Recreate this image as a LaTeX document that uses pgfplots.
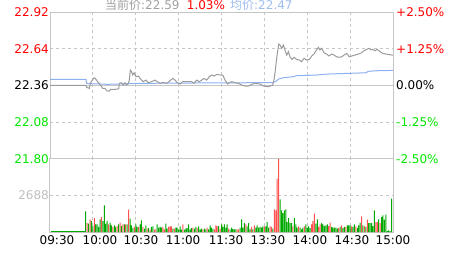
\documentclass[border=0pt]{standalone}
\usepackage{fontspec}
\setmainfont{DejaVu Sans}
\newfontfamily\cjk{Noto Sans CJK SC}
\usepackage{pgfplots}
\pgfplotsset{compat=1.18}
\definecolor{bgray}{RGB}{198,198,198}
\definecolor{lred}{RGB}{255,0,0}
\definecolor{lgreen}{RGB}{0,230,0}
\definecolor{vred}{RGB}{255,80,80}
\definecolor{vgreen}{RGB}{0,168,0}
\definecolor{pgray}{RGB}{155,155,155}
\definecolor{pblue}{RGB}{140,176,240}
\definecolor{tgray}{RGB}{160,160,160}
\definecolor{tblue}{RGB}{160,188,240}
\definecolor{vlbl}{RGB}{192,192,192}
\pgfplotsset{
  common/.style={scale only axis, width=343pt, xmin=0, xmax=240, anchor=south west,
    axis line style={draw=bgray, line width=1pt},
    major tick length=0pt, tick style={draw=none},
    grid style={draw=bgray, line width=1pt, dash pattern=on 3pt off 3pt},
    ticklabel style={font=\fontsize{12}{14}\selectfont, inner sep=0pt},
  }
}
\begin{document}
\begin{tikzpicture}
\useasboundingbox (0,0) rectangle (463pt,255pt);
% price axis
\begin{axis}[common, at={(50pt,96.3pt)}, height=146.7pt, ymin=21.80, ymax=22.92,
  xtick={30,60,90,120,150,180,210}, xticklabels={}, xmajorgrids,
  ytick={21.80,22.08,22.64,22.92},
  yticklabels={\textcolor{lgreen}{21.80},\textcolor{lgreen}{22.08},\textcolor{lred}{22.64},\textcolor{lred}{22.92}},
  ymajorgrids,
  extra y ticks={22.36}, extra y tick labels={\textcolor{black}{22.36}},
  extra y tick style={grid style={solid}},
  yticklabel style={anchor=east, xshift=-1pt}]
\addplot[pblue, line width=1pt] coordinates {
(0,22.406) (25.2,22.406) (25.6,22.375) (30,22.372) (35,22.37) (40,22.368) (48,22.37) (55,22.372) (60,22.375) (100,22.378) (140,22.38) (156,22.381) (157.7,22.388) (159.1,22.40) (160,22.408) (161.4,22.413) (163.3,22.418) (170.3,22.426) (171.9,22.433) (186.6,22.439) (193.6,22.446) (209.9,22.452) (221.1,22.456) (222.7,22.467) (227.4,22.471) (240,22.474)
};
\addplot[pgray, line width=1pt] coordinates {
(0,22.36) (25.2,22.36) (25.7,22.345) (27.5,22.337) (28.4,22.38) (29.6,22.40) (31,22.418) (32.2,22.406) (33.3,22.388) (34.5,22.375) (35.7,22.355) (36.8,22.337) (38.5,22.337) (39.6,22.319) (41.5,22.316) (42.4,22.329) (45.5,22.329) (48.1,22.334) (48.5,22.375) (50.1,22.38) (51.3,22.362) (52.5,22.38) (53.6,22.362) (54.8,22.375) (55.5,22.40) (56.2,22.477) (57.1,22.464) (57.8,22.439) (58.8,22.456) (60.2,22.426) (61.8,22.431) (63.5,22.406) (65.3,22.388) (67.2,22.40) (68.8,22.38) (71.1,22.388) (73.5,22.40) (75.1,22.388) (77,22.375) (79.3,22.383) (81.6,22.375) (84,22.395) (85.9,22.413) (87.5,22.40) (89.1,22.38) (91,22.37) (92.8,22.388) (95.6,22.388) (99.1,22.388) (100.7,22.375) (102.6,22.40) (104.5,22.388) (106.1,22.40) (107.8,22.413) (109.6,22.40) (111.5,22.426) (113.2,22.439) (114.8,22.431) (116.7,22.444) (119,22.439) (120.9,22.439) (122.5,22.40) (124.2,22.37) (125.6,22.38) (127.2,22.388) (129.6,22.38) (131.9,22.375) (134.2,22.362) (136.6,22.355) (138.9,22.355) (141.2,22.368) (143.6,22.375) (147.1,22.37) (149.3,22.355) (152.8,22.35) (155.8,22.362) (156.7,22.40) (157.7,22.477) (158.6,22.566) (160,22.675) (160.9,22.668) (162.1,22.643) (163.3,22.668) (164.4,22.63) (165.6,22.591) (166.8,22.617) (167.9,22.578) (169.3,22.558) (170.7,22.574) (172.6,22.558) (174.5,22.553) (176.1,22.54) (177.7,22.566) (179.6,22.553) (181.5,22.558) (183.1,22.584) (184.7,22.599) (186.1,22.624) (187.8,22.65) (188.9,22.63) (190.1,22.643) (191.7,22.609) (193.6,22.599) (195.2,22.584) (197.1,22.599) (198.7,22.591) (200.6,22.578) (202.4,22.574) (204.1,22.578) (205.7,22.591) (207.6,22.604) (209.4,22.578) (211.1,22.584) (213.4,22.591) (215.7,22.599) (218.1,22.609) (219.7,22.624) (221.6,22.635) (223.4,22.643) (224.6,22.63) (225.8,22.635) (227.4,22.624) (229,22.635) (230.9,22.617) (232.8,22.604) (235.1,22.599) (240,22.59)
};
\end{axis}
% percent axis (right)
\begin{axis}[common, at={(50pt,96.3pt)}, height=146.7pt, ymin=-2.5, ymax=2.5,
  axis x line=none, axis y line*=right,
  ytick={-2.5,-1.25,0,1.25,2.5},
  yticklabels={\textcolor{lgreen}{-2.50\%},\textcolor{lgreen}{-1.25\%},\textcolor{black}{0.00\%},\textcolor{lred}{+1.25\%},\textcolor{lred}{+2.50\%}},
  yticklabel style={anchor=west, xshift=3pt}]
\addplot[draw=none] coordinates {(0,0)};
\end{axis}
% volume axis
\begin{axis}[common, at={(50pt,23pt)}, height=73.3pt, ymin=0, ymax=5376,
  ytick={2688}, yticklabels={\textcolor{vlbl}{2688}}, ymajorgrids,
  yticklabel style={anchor=east, xshift=-1pt},
  xtick={4.9,35,63.7,93.1,123.2,152.5,181.9,211.3,240},
  xticklabels={09:30,10:00,10:30,11:00,11:30,13:30,14:00,14:30,15:00},
  xticklabel style={anchor=north, yshift=-3pt},
  extra x ticks={30,60,90,120,150,180,210}, extra x tick labels={},
  extra x tick style={grid=major}]
\addplot[vgreen, line width=1pt] coordinates {(0.6,40) (24.5,40)};
\addplot[ybar, bar width=1pt, bar shift=0pt, fill=vred, draw=none] coordinates {
(26,660) (28,931) (31,1026) (36,1100) (41,564) (44,367) (47,440) (49,682) (51,564) (53,564) (55,1635) (59,367)
(62,367) (65,367) (68,242) (70,169) (73,169) (74,198) (79,367) (80,198) (83,367) (84,418) (85,418) (87,242) (93,564) (100,315) (103,293) (107,198) (110,315) (115,198) (116,491) (117,418) (119,242)
(125,242) (131,198) (132,198) (137,564) (141,367) (143,491) (150,418) (154,418) (155,367) (157,1664) (158,1591) (159,3907) (160,5370) (170,418) (174,418) (178,418)
(183,564) (184,806) (185,1341) (188,367) (189,564) (195,440) (196,682) (202,293) (204,491) (207,367) (211,418) (214,418) (218,1151) (220,440) (222,902) (228,733) (229,733) (231,660)
};
\addplot[ybar, bar width=1pt, bar shift=0pt, fill=vgreen, draw=none] coordinates {
(25,1517) (27,608) (29,806) (30,440) (32,564) (33,564) (34,367) (35,931) (37,806) (38,1957) (39,608) (40,806) (42,682) (43,491) (45,491) (46,367) (48,564) (50,440) (52,564) (54,564) (56,975) (57,491) (58,293) (60,564)
(61,367) (63,564) (64,858) (66,242) (67,491) (69,293) (71,367) (72,418) (75,564) (76,315) (77,367) (78,315) (81,608) (82,242) (86,242) (88,315) (89,315) (90,169) (91,418) (92,169) (94,169) (95,242) (96,293) (97,564) (98,169) (99,293) (101,242) (102,367) (104,418) (105,169) (106,242) (108,242) (109,198) (111,198) (112,491) (113,315) (114,242) (118,440) (120,564) (121,367)
(122,564) (123,315) (124,564) (126,169) (127,315) (128,220) (129,198) (130,198) (133,315) (134,931) (135,315) (136,660) (138,418) (139,660) (140,198) (142,198) (144,315) (145,491) (146,315) (147,367) (148,315) (149,418) (151,418) (152,733) (153,315) (156,242) (161,2397) (162,1591) (163,1393) (164,1591) (165,1664) (166,733) (167,1026) (168,660) (169,660) (171,1026) (172,564) (173,315) (175,315) (176,198) (177,315) (179,564) (180,315) (181,418)
(182,293) (186,608) (187,931) (190,660) (191,564) (192,440) (193,491) (194,564) (197,367) (198,315) (199,315) (200,315) (201,242) (203,367) (205,293) (206,367) (208,491) (209,491) (210,491) (212,367) (213,564) (215,293) (216,491) (217,682) (219,491) (221,367) (223,660) (224,660) (225,660) (226,440) (227,1591) (230,931) (232,1100) (233,1224) (234,902) (235,1268) (236,73) (237,125) (238,73) (239,2441)
};
\end{axis}
% header
\node[anchor=base west, inner sep=0pt, text=tgray, font=\fontsize{12}{14}\selectfont] at (105pt,245.5pt) {{\cjk 当前价}:22.59};
\node[anchor=base west, inner sep=0pt, text=lred, font=\fontsize{12}{14}\selectfont] at (186.7pt,245.5pt) {1.03\%};
\node[anchor=base west, inner sep=0pt, text=tblue, font=\fontsize{12}{14}\selectfont] at (230pt,245.5pt) {{\cjk 均价}:22.47};
\end{tikzpicture}
\end{document}
